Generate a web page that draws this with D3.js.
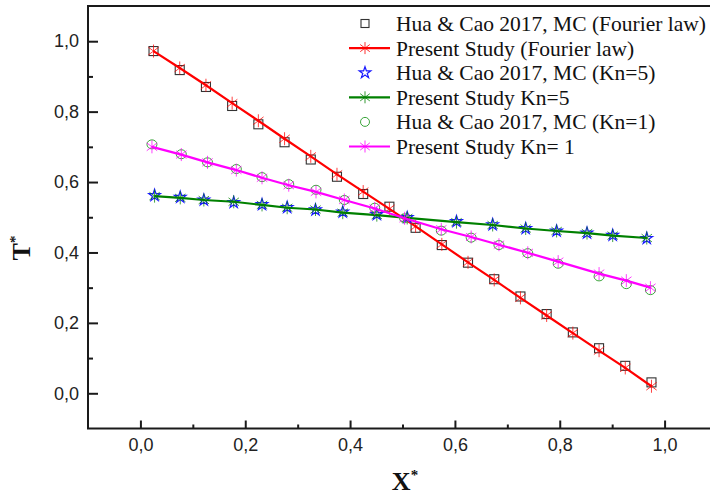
<!DOCTYPE html>
<html>
<head>
<meta charset="utf-8">
<script src="https://cdn.jsdelivr.net/npm/d3@7/dist/d3.min.js"></script>
<style>
  html, body { margin: 0; padding: 0; background: #fff; }
  svg { display: block; }
</style>
</head>
<body>
<svg id="chart" width="710" height="498"></svg>
<script>
// Dimensionless temperature profiles T* across the slab X*

// Fourier-law case (uniform grid)
const fourierX = [0.025, 0.075, 0.125, 0.175, 0.225, 0.275, 0.325, 0.375, 0.425, 0.475,
                  0.525, 0.575, 0.625, 0.675, 0.725, 0.775, 0.825, 0.875, 0.925, 0.975];
const huaFourier = [0.972, 0.918, 0.870, 0.816, 0.764, 0.713, 0.664, 0.615, 0.566, 0.530,
                    0.470, 0.421, 0.371, 0.324, 0.275, 0.225, 0.173, 0.128, 0.078, 0.031];
const presentFourier = [0.972, 0.924, 0.875, 0.824, 0.774, 0.723, 0.673, 0.622, 0.573, 0.524,
                        0.474, 0.423, 0.372, 0.322, 0.271, 0.221, 0.171, 0.121, 0.072, 0.020];

// Kn = 5
const kn5X = [0.027, 0.076, 0.121, 0.178, 0.232, 0.280, 0.334, 0.386, 0.451, 0.509,
              0.603, 0.672, 0.735, 0.794, 0.852, 0.901, 0.966];
const huaKn5 = [0.562, 0.557, 0.549, 0.542, 0.536, 0.528, 0.521, 0.515, 0.508, 0.499,
                0.488, 0.479, 0.468, 0.461, 0.455, 0.449, 0.440];
const presentKn5 = [0.560, 0.555, 0.549, 0.544, 0.535, 0.527, 0.522, 0.513, 0.506, 0.498,
                    0.486, 0.478, 0.468, 0.461, 0.455, 0.448, 0.441];

// Kn = 1
const kn1X = [0.022, 0.078, 0.128, 0.183, 0.232, 0.283, 0.335, 0.389, 0.447, 0.504,
              0.574, 0.631, 0.684, 0.739, 0.797, 0.875, 0.927, 0.973];
const huaKn1 = [0.707, 0.679, 0.656, 0.637, 0.614, 0.594, 0.578, 0.549, 0.527, 0.497,
                0.462, 0.442, 0.421, 0.398, 0.368, 0.332, 0.310, 0.293];
const presentKn1 = [0.700, 0.678, 0.656, 0.634, 0.612, 0.591, 0.572, 0.549, 0.525, 0.497,
                    0.466, 0.444, 0.422, 0.399, 0.374, 0.340, 0.320, 0.300];

// Axis ticks
const majorTicks = [0.0, 0.2, 0.4, 0.6, 0.8, 1.0];
const minorTicks = [0.1, 0.3, 0.5, 0.7, 0.9];
const xDomain = [-0.1, 1.1];
const yDomain = [-0.1, 1.1];

// Legend entries
const legendLabels = [
  "Hua & Cao 2017, MC (Fourier law)",
  "Present Study (Fourier law)",
  "Hua & Cao 2017, MC (Kn=5)",
  "Present Study Kn=5",
  "Hua & Cao 2017, MC (Kn=1)",
  "Present Study Kn= 1"
];

const svg = d3.select("#chart");
const margin = { left: 88, top: 6 };
const W = 629, H = 422.5;

const x = d3.scaleLinear().domain(xDomain).range([margin.left, margin.left + W]);
const y = d3.scaleLinear().domain(yDomain).range([margin.top + H, margin.top]);

const fmt = v => d3.format(".1f")(v).replace(".", ",");
const axisColor = "#1a1a1a";

// Frame
svg.append("rect")
  .attr("x", margin.left).attr("y", margin.top)
  .attr("width", W).attr("height", H)
  .attr("fill", "none").attr("stroke", axisColor).attr("stroke-width", 2);

// Axes (ticks point inward)
const gx = svg.append("g").attr("transform", `translate(0,${margin.top + H})`)
  .call(d3.axisBottom(x).tickValues(majorTicks).tickSize(-8).tickPadding(10).tickFormat(fmt));
const gxm = svg.append("g").attr("transform", `translate(0,${margin.top + H})`)
  .call(d3.axisBottom(x).tickValues(minorTicks).tickSize(-4).tickFormat(""));
const gy = svg.append("g").attr("transform", `translate(${margin.left},0)`)
  .call(d3.axisLeft(y).tickValues(majorTicks).tickSize(-10).tickPadding(9).tickFormat(fmt));
const gym = svg.append("g").attr("transform", `translate(${margin.left},0)`)
  .call(d3.axisLeft(y).tickValues(minorTicks).tickSize(-5).tickFormat(""));

[gx, gxm, gy, gym].forEach(g => {
  g.select(".domain").remove();
  g.selectAll(".tick line").attr("stroke", axisColor).attr("stroke-width", 2);
  g.selectAll(".tick text")
    .attr("font-family", "'Liberation Sans', Arial, sans-serif")
    .attr("font-size", 18).attr("fill", "#222");
});

// Axis titles
svg.append("text")
  .attr("x", 405).attr("y", 490)
  .attr("text-anchor", "middle")
  .attr("font-family", "'Liberation Serif', 'Times New Roman', serif")
  .attr("font-weight", "bold").attr("font-size", 26).attr("fill", "#111")
  .text("X")
  .append("tspan").attr("dy", -10).attr("font-size", 15).text("*");

svg.append("text")
  .attr("transform", "translate(30,248) rotate(-90)")
  .attr("text-anchor", "middle")
  .attr("font-family", "'Liberation Serif', 'Times New Roman', serif")
  .attr("font-weight", "bold").attr("font-size", 26).attr("fill", "#111")
  .text("T")
  .append("tspan").attr("dy", -10).attr("font-size", 15).text("*");

// Marker shapes
const asterisk = s => {
  const a = s * 0.8, b = s * 0.6;
  return `M0,${-s}L0,${s}M${-a},${-b}L${a},${b}M${-a},${b}L${a},${-b}`;
};
const starPath = d3.symbol().type(d3.symbolStar).size(42)();

const plot = svg.append("g");
const line = d3.line();

function drawSquares(xs, ys, color) {
  plot.append("g").selectAll("rect").data(xs).join("rect")
    .attr("x", (d, i) => x(d) - 4.5).attr("y", (d, i) => y(ys[i]) - 4.5)
    .attr("width", 9).attr("height", 9)
    .attr("fill", "none").attr("stroke", color).attr("stroke-width", 1.1);
}
function drawStars(xs, ys, color) {
  plot.append("g").selectAll("path").data(xs).join("path")
    .attr("d", starPath)
    .attr("transform", (d, i) => `translate(${x(d)},${y(ys[i])})`)
    .attr("fill", "none").attr("stroke", color).attr("stroke-width", 1.2);
}
function drawCircles(xs, ys, color) {
  plot.append("g").selectAll("ellipse").data(xs).join("ellipse")
    .attr("cx", d => x(d)).attr("cy", (d, i) => y(ys[i]))
    .attr("rx", 5).attr("ry", 4.5)
    .attr("fill", "none").attr("stroke", color).attr("stroke-width", 1);
}
function drawLine(xs, ys, color) {
  plot.append("path")
    .attr("d", line(xs.map((d, i) => [x(d), y(ys[i])])))
    .attr("fill", "none").attr("stroke", color).attr("stroke-width", 2.2);
  plot.append("g").selectAll("path").data(xs).join("path")
    .attr("d", asterisk(6.5))
    .attr("transform", (d, i) => `translate(${x(d)},${y(ys[i])})`)
    .attr("fill", "none").attr("stroke", color).attr("stroke-width", 1).attr("opacity", 0.75);
}

const colors = {
  square: "#333333", red: "#ff0000", blue: "#1a1aff",
  green: "#008000", circle: "#3aa53a", magenta: "#ff00ff"
};

drawSquares(fourierX, huaFourier, colors.square);
drawLine(fourierX, presentFourier, colors.red);
drawStars(kn5X, huaKn5, colors.blue);
drawLine(kn5X, presentKn5, colors.green);
drawCircles(kn1X, huaKn1, colors.circle);
drawLine(kn1X, presentKn1, colors.magenta);

// Legend
const legend = svg.append("g");
const rowY = i => 23.5 + i * 24.6;
const symX = 365, textX = 396;
const kinds = ["square", "lineRed", "star", "lineGreen", "circle", "lineMagenta"];
kinds.forEach((k, i) => {
  const cy = rowY(i);
  const g = legend.append("g");
  if (k === "square") {
    g.append("rect").attr("x", symX - 4).attr("y", cy - 4).attr("width", 8).attr("height", 8)
      .attr("fill", "none").attr("stroke", colors.square).attr("stroke-width", 1.1);
  } else if (k === "star") {
    g.append("path").attr("d", starPath).attr("transform", `translate(${symX},${cy})`)
      .attr("fill", "none").attr("stroke", colors.blue).attr("stroke-width", 1.2);
  } else if (k === "circle") {
    g.append("ellipse").attr("cx", symX).attr("cy", cy).attr("rx", 4.5).attr("ry", 4.5)
      .attr("fill", "none").attr("stroke", colors.circle).attr("stroke-width", 1);
  } else {
    const c = k === "lineRed" ? colors.red : k === "lineGreen" ? colors.green : colors.magenta;
    g.append("line").attr("x1", 349).attr("x2", 390).attr("y1", cy).attr("y2", cy)
      .attr("stroke", c).attr("stroke-width", 2.2);
    g.append("path").attr("d", asterisk(6)).attr("transform", `translate(${symX},${cy})`)
      .attr("fill", "none").attr("stroke", c).attr("stroke-width", 1).attr("opacity", 0.8);
  }
  g.append("text").attr("x", textX).attr("y", cy + 7.5)
    .attr("font-family", "'Liberation Serif', 'Times New Roman', serif")
    .attr("font-size", 21.5).attr("fill", "#111")
    .text(legendLabels[i]);
});
</script>
</body>
</html>
